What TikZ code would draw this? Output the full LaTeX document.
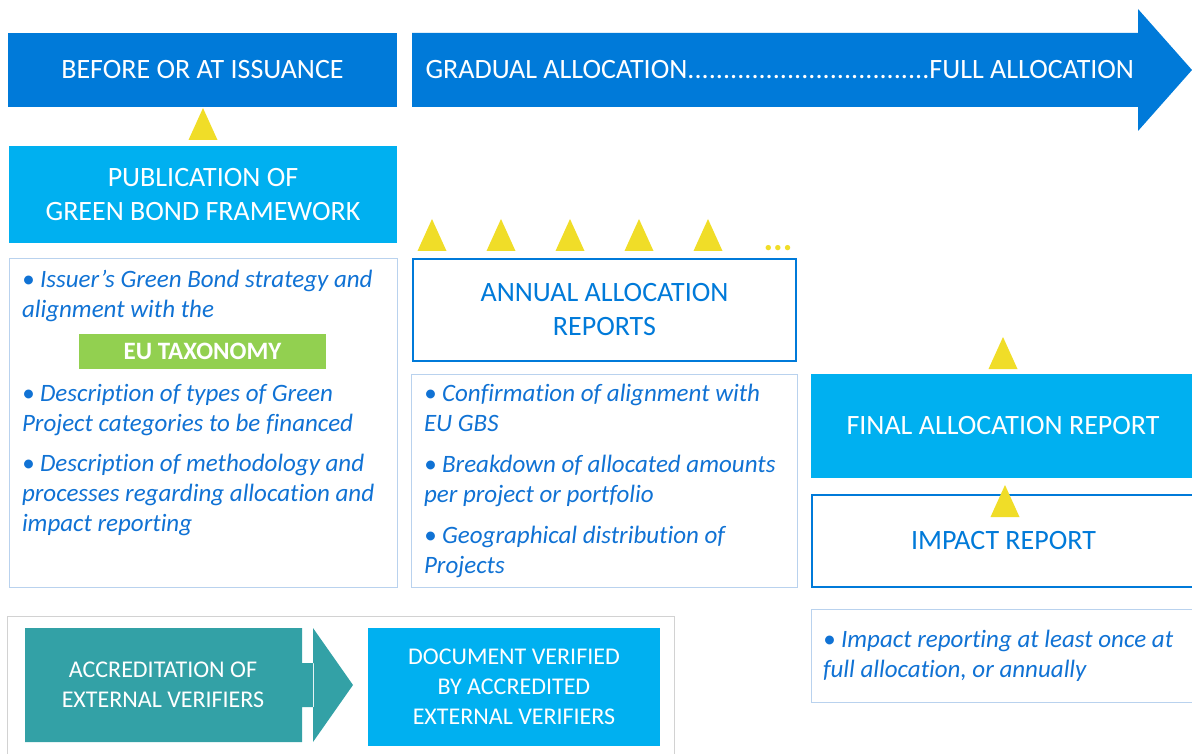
\documentclass[tikz,border=0pt]{standalone}
\usepackage{fontspec}
\setmainfont{Carlito}[Ligatures={TeX,NoCommon}]
\usepackage{tikz}
\usetikzlibrary{positioning,shapes.geometric}
\definecolor{deepblue}{RGB}{0,122,217}
\definecolor{skyblue}{RGB}{0,176,240}
\definecolor{paleline}{RGB}{185,210,238}
\definecolor{greyline}{RGB}{210,210,210}
\definecolor{tealbox}{RGB}{51,161,166}
\definecolor{markyellow}{RGB}{240,221,40}
\definecolor{taxgreen}{RGB}{146,208,80}
\definecolor{textblue}{RGB}{16,114,212}

\begin{document}
\begin{tikzpicture}[x=1pt,y=-1pt,inner sep=0pt,outer sep=0pt]
      \tikzset{titlebox/.style={rectangle,anchor=north west,align=center,font=\fontsize{28}{34}\selectfont},
        filled/.style={titlebox,fill=#1,text=white},
        framed/.style={titlebox,draw=deepblue,line width=2pt,fill=white,text=deepblue},
        listbox/.style={draw=paleline,line width=1pt,anchor=north west},
        listtext/.style={anchor=north west,align=left,text=textblue,font=\fontsize{25}{30}\selectfont\itshape},
        marker/.style={isosceles triangle,isosceles triangle stretches,shape border rotate=90,fill=markyellow,minimum width=29pt,minimum height=32pt}}

      \useasboundingbox (0,0) rectangle (1192,754);

      % top bars
      \node[filled=deepblue,minimum width=389pt,minimum height=74pt] (issuance) at (8,33) {BEFORE OR AT ISSUANCE};
      \fill[deepblue] (412,33) -- (1138,33) -- (1138,9) -- (1192,70) -- (1138,131) -- (1138,107) -- (412,107) -- cycle;
      \node[text=white,font=\fontsize{28}{34}\selectfont] (gradual) at (780,70) {\makebox[709pt]{GRADUAL ALLOCATION\xleaders\hbox{.}\hfill FULL ALLOCATION}};

      % before or at issuance
      \node[filled=skyblue,minimum width=388pt,minimum height=97pt] (publish) at (9,146) {PUBLICATION OF\\GREEN BOND FRAMEWORK};
      \node[marker,above=6pt of publish] (m0) {};
      \node[listbox,minimum width=388pt,minimum height=328pt] (framework) at (9,259) {};
      \node[listtext] (strategy) at (22,270) {\textbullet\ Issuer’s Green Bond strategy and\\alignment with the};
      \node[fill=taxgreen,text=white,font=\fontsize{25}{25}\selectfont\bfseries,minimum width=247pt,minimum height=35pt,anchor=north west] (taxonomy) at (79,334) {EU TAXONOMY};
      \node[listtext] (categories) at (22,384) {\textbullet\ Description of types of Green\\Project categories to be financed};
      \node[listtext] (method) at (22,454) {\textbullet\ Description of methodology and\\processes regarding allocation and\\impact reporting};

      % annual reports
      \node[marker,anchor=south] (m1) at (432,251) {};
      \node[marker,anchor=south] (m2) at (501,251) {};
      \node[marker,anchor=south] (m3) at (570,251) {};
      \node[marker,anchor=south] (m4) at (639,251) {};
      \node[marker,anchor=south] (m5) at (708,251) {};
      \node[text=markyellow,font=\fontsize{36}{36}\selectfont\bfseries,anchor=base] (more) at (778,251) {...};
      \node[framed,minimum width=383pt,minimum height=102pt] (annual) at (413,259) {ANNUAL ALLOCATION\\REPORTS};
      \node[listbox,minimum width=386pt,minimum height=213pt] (annuallist) at (411,374) {};
      \node[listtext] (confirm) at (424,384) {\textbullet\ Confirmation of alignment with\\EU GBS};
      \node[listtext] (breakdown) at (424,455) {\textbullet\ Breakdown of allocated amounts\\per project or portfolio};
      \node[listtext] (geography) at (424,526) {\textbullet\ Geographical distribution of\\Projects};

      % final and impact reports
      \node[filled=skyblue,minimum width=384pt,minimum height=104pt] (final) at (811,374) {FINAL ALLOCATION REPORT};
      \node[marker,above=5pt of final] (m6) {};
      \node[framed,minimum width=383pt,minimum height=92pt] (impact) at (812,495) {IMPACT REPORT};
      \node[marker,anchor=south] (m7) at (1005,517) {};
      \node[listbox,minimum width=386pt,minimum height=93pt] (impactlist) at (811,609) {};
      \node[listtext] (often) at (823,630) {\textbullet\ Impact reporting at least once at\\full allocation, or annually};

      % verifiers
      \node[draw=greyline,line width=1pt,minimum width=667pt,minimum height=150pt,anchor=north west] (verifiers) at (7,616) {};
      \fill[tealbox] (25,628) rectangle (302,742) (301,663) rectangle (314,707) (313,628) -- (353,685) -- (313,742) -- cycle;
      \node[text=white,align=center,font=\fontsize{24}{30}\selectfont] (accredit) at (163,685) {ACCREDITATION OF\\EXTERNAL VERIFIERS};
      \node[filled=skyblue,font=\fontsize{24}{30}\selectfont,minimum width=292pt,minimum height=118pt] (verified) at (368,628) {DOCUMENT VERIFIED\\BY ACCREDITED\\EXTERNAL VERIFIERS};
    \end{tikzpicture}
\end{document}
